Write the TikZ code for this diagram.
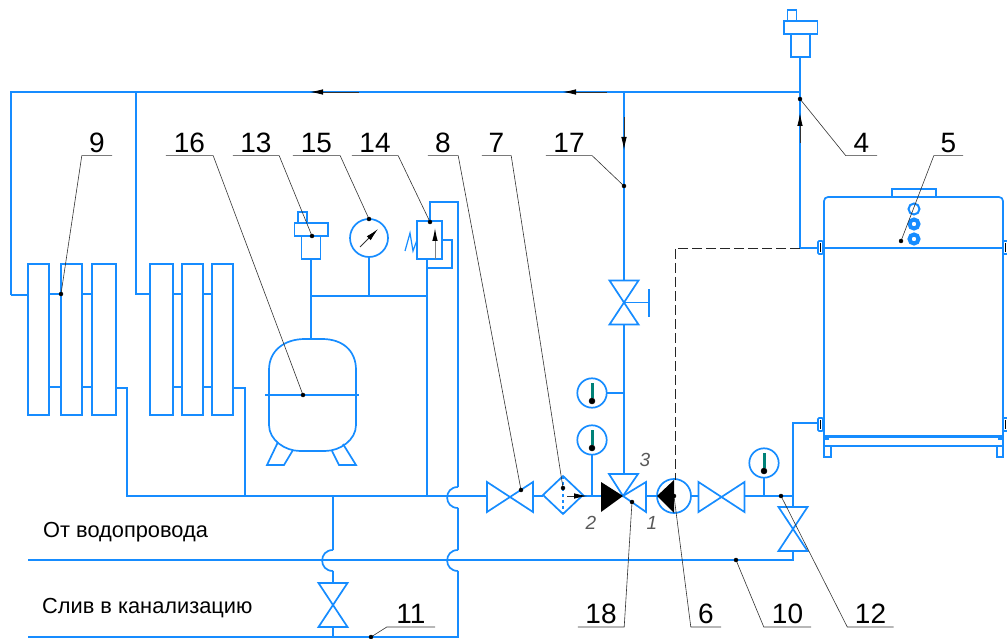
\documentclass[tikz,border=0pt]{standalone}
\usepackage{fontspec}
\setmainfont{Liberation Sans}
\usetikzlibrary{arrows.meta}
\definecolor{pipeblue}{RGB}{22,140,255}
\definecolor{thermgreen}{RGB}{0,130,120}
\tikzset{
    pipe/.style={draw=pipeblue,line width=1.7pt,line join=miter},
    leader/.style={draw=black!80,line width=0.6pt},
    flow/.style={draw=black!80,line width=0.8pt,->},
    numlabel/.style={font=\fontsize{28}{28}\selectfont,minimum width=#1,inner xsep=0pt,inner ysep=3pt,anchor=south},
    portlabel/.style={font=\fontsize{19}{19}\selectfont\itshape,text=black!65,inner sep=0pt},
    textlabel/.style={font=\fontsize{21.8}{22}\selectfont,inner sep=0pt,anchor=west},
}
\begin{document}
\begin{tikzpicture}[x=1pt,y=-1pt,>={Latex[length=13pt,width=5.5pt,black]}]
    \useasboundingbox (0,0) rectangle (1007,639);
    % pipes
    \draw[pipe] (11,295) -- (11,92) -- (800,92);
    \draw[pipe] (136,92) -- (136,294) -- (150,294);
    \draw[pipe] (11,295) -- (28,295);
    \draw[pipe] (116,388) -- (127,388) -- (127,496) -- (447,496);
    \draw[pipe] (233,388) -- (245,388) -- (245,496);
    \draw[pipe] (447,496) -- (487,496);
    \draw[pipe] (533,496) -- (543,496);
    \draw[pipe] (583,496) -- (601,496);
    \draw[pipe] (646,496) -- (657,496);
    \draw[pipe] (691,496) -- (699,496);
    \draw[pipe] (744,496) -- (793,496);
    \draw[pipe] (624,92) -- (624,281);
    \draw[pipe] (624,324) -- (624,474);
    \draw[pipe] (800,57) -- (800,248) -- (818,248);
    \draw[pipe] (818,423) -- (793,423) -- (793,507);
    \draw[pipe] (793,551) -- (793,560) -- (28,560);
    \draw[pipe] (311,339) -- (311,259);
    \draw[pipe] (311,296) -- (427,296);
    \draw[pipe] (369,296) -- (369,257);
    \draw[pipe] (427,496) -- (427,259);
    \draw[pipe] (427,268) -- (452,268) -- (452,240) -- (442,240);
    \draw[pipe] (430,221) -- (430,202) -- (458,202) -- (458,487);
    \draw[pipe] (458,508) -- (458,550);
    \draw[pipe] (458,571) -- (458,637) -- (28,637);
    \draw[pipe] (333,496) -- (333,550);
    \draw[pipe] (333,571) -- (333,583);
    \draw[pipe] (333,627) -- (333,637);
    % hops
    \foreach \x/\y in {458/487,458/550,333/550}
        \draw[pipe] (\x,\y) .. controls (\x-14.5,\y) and (\x-14.5,\y+21) .. (\x,\y+21);
    % radiators
    \foreach \xa/\xb in {28/49,61/82,92/116,150/173,182/203,212/233}
        \draw[pipe] (\xa,264) rectangle (\xb,415);
    \foreach \xa/\xb in {49/61,82/92,173/182,203/212}{
        \draw[pipe] (\xa,294) -- (\xb,294);
        \draw[pipe] (\xa,387) -- (\xb,387);
    }
    % tank
    \draw[pipe] (269,370) .. controls (269,350) and (285,339) .. (305,339) -- (322,339)
        .. controls (342,339) and (356,350) .. (356,370) -- (356,425)
        .. controls (356,440) and (340,451) .. (325,451) -- (300,451)
        .. controls (285,451) and (269,440) .. (269,425) -- cycle;
    \draw[pipe] (265,395) -- (359,395);
    \draw[pipe] (278,442) -- (267,465) -- (284,465) -- (293,450);
    \draw[pipe] (343,444) -- (356,465) -- (339,465) -- (332,451);
    % valves
    \foreach \x/\y in {510/497,721.5/497}
        \draw[pipe] (\x-23,\y-15) -- (\x+23,\y+15) -- (\x+23,\y-15) -- (\x-23,\y+15) -- cycle;
    \foreach \x/\y in {333/605,793/529,624/302.5}
        \draw[pipe] (\x-14.5,\y-22) -- (\x+14.5,\y+22) -- (\x-14.5,\y+22) -- (\x+14.5,\y-22) -- cycle;
    \draw[pipe] (624,302.5) -- (649,302.5);
    \draw[pipe] (649,289) -- (649,317);
    % three way valve
    \draw[pipe] (623,496) -- (646,482) -- (646,512) -- cycle;
    \draw[pipe] (623,496) -- (609,474) -- (638,474) -- cycle;
    \fill[black] (601,482) -- (601,512) -- (623,496) -- cycle;
    % filter
    \draw[pipe] (563,476) -- (583,495) -- (563,514) -- (543,495) -- cycle;
    \draw[pipe,dashed] (563,476) -- (563,514);
    % pump
    \draw[pipe] (674,496) circle (17pt);
    \fill[black] (657,496) -- (674,480) -- (674,513) -- cycle;
    \draw[dash pattern=on 10pt off 4pt,black!85,line width=0.9pt] (800,248) -- (675,248) -- (675,480);
    % thermometers
    \draw[pipe] (607,393) -- (624,393);
    \draw[pipe] (592,455) -- (592,496);
    \draw[pipe] (764,478) -- (764,496);
    \foreach \x/\y in {592/393,592/440,764/463}{
        \draw[pipe,fill=white] (\x,\y) circle (14.7pt);
        \draw[thermgreen,line width=3pt] (\x,\y-10) -- (\x,\y+5);
        \filldraw[black] (\x,\y+8) circle (3pt);
    }
    % air vents
    \foreach \x/\y in {311/259,800.5/57}{
        \draw[pipe] (\x-9.5,\y-23) rectangle (\x+9.5,\y);
        \draw[pipe] (\x-16.5,\y-36) rectangle (\x+17,\y-23);
        \draw[pipe] (\x-13,\y-47) rectangle (\x-4,\y-36);
    }
    % manometer
    \draw[pipe] (369,238) circle (19pt);
    \draw[flow] (360,247) -- (378,229);
    % safety valve
    \draw[pipe] (417,221) rectangle (442,259);
    \draw[pipe,line width=1.2pt] (405,251) -- (410,233) -- (413,251) -- (417,240);
    \draw[flow,draw=black!50,line width=1pt] (435,259) -- (435,228);
    % boiler
    \draw[pipe,rounded corners=4pt] (824,436) -- (824,197) -- (1003,197) -- (1003,436);
    \draw[pipe] (824,248) -- (1003,248);
    \draw[pipe] (892,197) -- (892,189) -- (936,189) -- (936,197);
    \draw[pipe,line width=3pt] (824,436) -- (1003,436);
    \draw[pipe] (824,436) -- (824,446) -- (1003,446) -- (1003,436);
    \draw[pipe] (824,446) -- (824,457) -- (831,457) -- (831,446);
    \draw[pipe] (997,446) -- (997,457) -- (1003,457) -- (1003,446);
    \draw[pipe] (824,439) -- (829,439);
    \draw[pipe] (998,439) -- (1003,439);
    \draw[pipe,line width=2pt] (914,209) circle (5.5pt);
    \foreach \y in {224,239}
        \draw[pipe,line width=4pt] (914,\y) circle (4.5pt);
    \foreach \x/\y in {818/241,818/418,1003/241,1003/418}{
        \draw[pipe,fill=white,rounded corners=1pt] (\x,\y) rectangle (\x+5,\y+13);
        \draw[black,line width=0.6pt] (\x+2.5,\y+2) -- (\x+2.5,\y+11);
    }
    % flow arrows
    \draw[flow] (359,92) -- (310,92);
    \draw[flow] (607,92) -- (563,92);
    \draw[flow] (624,117) -- (624,150);
    \draw[flow] (800,143) -- (800,113);
    \draw[flow] (567,496) -- (587,496);
    % labels
    \node[numlabel=30pt] (n9) at (97,155.7) {9};
    \node[numlabel=47pt] (n16) at (189.5,155.7) {16};
    \node[numlabel=46pt] (n13) at (256,155.7) {13};
    \node[numlabel=47pt] (n15) at (316.5,155.7) {15};
    \node[numlabel=46pt] (n14) at (375,155.7) {14};
    \node[numlabel=30pt] (n8) at (443,155.7) {8};
    \node[numlabel=29pt] (n7) at (496.5,155.7) {7};
    \node[numlabel=46pt] (n17) at (569,155.7) {17};
    \node[numlabel=31pt] (n4) at (861.5,155.7) {4};
    \node[numlabel=29pt] (n5) at (948.5,155.7) {5};
    \node[numlabel=46pt] (n18) at (601,627) {18};
    \node[numlabel=30pt] (n6) at (706,627) {6};
    \node[numlabel=47pt] (n10) at (787.5,627) {10};
    \node[numlabel=46pt] (n12) at (870.5,627) {12};
    \node[numlabel=48pt] (n11) at (411,627) {11};
    \node[portlabel] (p1) at (652,523) {1};
    \node[portlabel] (p2) at (591,523) {2};
    \node[portlabel] (p3) at (645,460) {3};
    \node[textlabel] (tsupply) at (43,532) {От водопровода};
    \node[textlabel] (tdrain) at (42,608) {Слив в канализацию};
    % leaders
    \coordinate (d9) at (61,294);
    \coordinate (d16) at (303,395);
    \coordinate (d13) at (312,236);
    \coordinate (d15) at (369,219);
    \coordinate (d14) at (430,222);
    \coordinate (d8) at (521,490);
    \coordinate (d7) at (563,488);
    \coordinate (d17) at (624,186);
    \coordinate (d4) at (800,99);
    \coordinate (d5) at (901,241);
    \coordinate (d18) at (632,502);
    \coordinate (d6) at (674,496);
    \coordinate (d10) at (736,560);
    \coordinate (d12) at (781,496);
    \coordinate (d11) at (371,637);
    \foreach \n in {14,15,16,13,17,8,7,18}
        \draw[leader] (d\n) -- (n\n.south east) -- (n\n.south west);
    \foreach \n in {9,4,5,6,10,11,12}
        \draw[leader] (d\n) -- (n\n.south west) -- (n\n.south east);
    \foreach \n in {9,16,13,15,14,8,7,17,4,5,18,6,10,12,11}
        \filldraw[black] (d\n) circle (2pt);
\end{tikzpicture}
\end{document}
